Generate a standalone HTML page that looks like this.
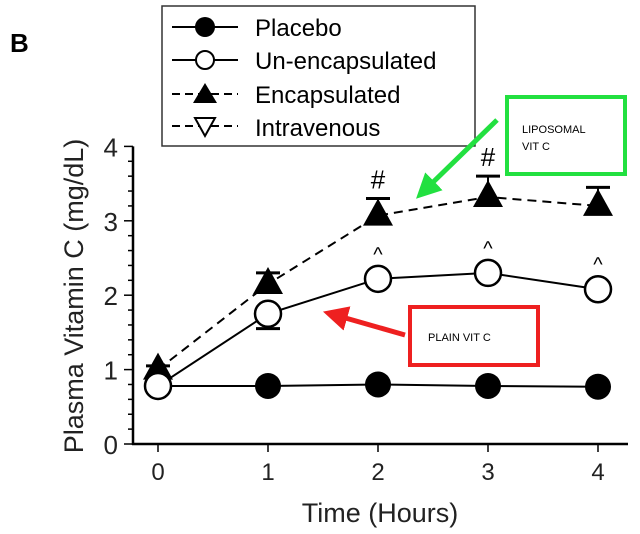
<!DOCTYPE html>
<html><head><meta charset="utf-8"><style>
body{margin:0;background:#fff;}
svg{display:block;font-family:"Liberation Sans",Arial,sans-serif;}
</style></head><body>
<svg width="640" height="534" viewBox="0 0 640 534">
<defs>
<marker id="gh" viewBox="0 0 10 10" refX="5" refY="5" markerWidth="5" markerHeight="5" orient="auto"><path d="M0,0L10,5L0,10z" fill="#22e040"/></marker>
<marker id="rh" viewBox="0 0 10 10" refX="5" refY="5" markerWidth="5" markerHeight="5" orient="auto"><path d="M0,0L10,5L0,10z" fill="#ee2020"/></marker>
</defs>
<text x="10" y="52" font-size="26" font-weight="bold">B</text>
<g id="legend">
<rect x="162" y="6" width="313" height="140" fill="#fff" stroke="#333" stroke-width="1.5"/>
<g><line x1="172" y1="27" x2="238" y2="27" stroke="#000" stroke-width="2"/><circle cx="205" cy="27" r="10" fill="#000"/><text x="255" y="36" font-size="24">Placebo</text></g>
<g><line x1="172" y1="60" x2="238" y2="60" stroke="#000" stroke-width="2"/><circle cx="205" cy="60" r="9" fill="#fff" stroke="#000" stroke-width="2"/><text x="255" y="69" font-size="24">Un-encapsulated</text></g>
<g><line x1="172" y1="94" x2="238" y2="94" stroke="#000" stroke-width="2" stroke-dasharray="8,5"/><path d="M205,83L217,103L193,103z" fill="#000"/><text x="255" y="103" font-size="24">Encapsulated</text></g>
<g><line x1="172" y1="126" x2="238" y2="126" stroke="#000" stroke-width="2" stroke-dasharray="8,5"/><path d="M195,118L215,118L205,136z" fill="#fff" stroke="#000" stroke-width="2"/><text x="255" y="136" font-size="24">Intravenous</text></g>
</g>
<g id="axes"></g>
<g id="series"></g>
<g>
<rect x="507" y="97" width="118" height="77" fill="#fff" stroke="#22e040" stroke-width="4"/>
<text x="522" y="133" font-size="11">LIPOSOMAL</text><text x="522" y="150" font-size="11">VIT C</text>
<line x1="497" y1="120" x2="425" y2="190" stroke="#22e040" stroke-width="5" marker-end="url(#gh)"/>
</g>
<g>
<rect x="410" y="307" width="128" height="58" fill="#fff" stroke="#ee2020" stroke-width="4"/>
<text x="428" y="341" font-size="11">PLAIN VIT C</text>
<line x1="405" y1="335" x2="335" y2="315" stroke="#ee2020" stroke-width="5" marker-end="url(#rh)"/>
</g>
</svg>
<script>
const hours=[0,1,2,3,4];
const yTicks=[0,1,2,3,4];
const placebo=[0.78,0.78,0.80,0.78,0.77];
const unencap=[0.78,1.75,2.22,2.30,2.08];
const unencapErrLow=[0.78,1.55,2.22,2.30,2.08];
const encap=[1.00,2.15,3.07,3.32,3.20];
const encapErrHigh=[1.05,2.30,3.30,3.60,3.45];
const hashAt=[2,3];
const caretAt=[2,3,4];
const NS="http://www.w3.org/2000/svg";
const X=v=>158+v*110, Y=v=>444-v*74.4;
function mk(t,a,p){const e=document.createElementNS(NS,t);for(const k in a)e.setAttribute(k,a[k]);p.appendChild(e);return e;}
const ax=document.getElementById('axes'), se=document.getElementById('series');
let e=mk('line',{x1:133,y1:Y(4),x2:133,y2:445,stroke:'#000','stroke-width':2.5},ax);

e=mk('line',{x1:132,y1:444,x2:628,y2:444,stroke:'#000','stroke-width':2.5},ax);

for(let v=0;v<=4.001;v+=0.2){mk('line',{x1:Math.abs(v-Math.round(v))<0.01?124:128,y1:Y(v),x2:133,y2:Y(v),stroke:'#000','stroke-width':1.5},ax);}
yTicks.forEach(t=>{e=mk('text',{x:118,y:Y(t)+10,'font-size':26,'text-anchor':'end',fill:'#222'},ax);e.textContent=t;
});
hours.forEach(h=>{mk('line',{x1:X(h),y1:444,x2:X(h),y2:452,stroke:'#000','stroke-width':1.5},ax);
e=mk('text',{x:X(h),y:480,'font-size':24,'text-anchor':'middle',fill:'#222'},ax);e.textContent=h;
});
e=mk('text',{x:380,y:522,'font-size':27,'text-anchor':'middle',fill:'#222'},ax);e.textContent='Time (Hours)';

e=mk('text',{x:0,y:0,'font-size':27,'text-anchor':'middle',fill:'#222',transform:'translate(83,296) rotate(-90)'},ax);e.textContent='Plasma Vitamin C (mg/dL)';

function pts(a){return a.map((v,i)=>X(hours[i])+','+Y(v)).join(' ');}
// error bars
hours.forEach((h,i)=>{mk('line',{x1:X(h),y1:Y(encap[i]),x2:X(h),y2:Y(encapErrHigh[i]),stroke:'#000','stroke-width':2},se);
mk('line',{x1:X(h)-12,y1:Y(encapErrHigh[i]),x2:X(h)+12,y2:Y(encapErrHigh[i]),stroke:'#000','stroke-width':3},se);
mk('line',{x1:X(h),y1:Y(unencap[i]),x2:X(h),y2:Y(unencapErrLow[i]),stroke:'#000','stroke-width':2},se);
mk('line',{x1:X(h)-12,y1:Y(unencapErrLow[i]),x2:X(h)+12,y2:Y(unencapErrLow[i]),stroke:'#000','stroke-width':3},se);});
e=mk('polyline',{points:pts(encap),fill:'none',stroke:'#000','stroke-width':2,'stroke-dasharray':'9,6'},se);

e=mk('polyline',{points:pts(unencap),fill:'none',stroke:'#000','stroke-width':2},se);

e=mk('polyline',{points:pts(placebo),fill:'none',stroke:'#000','stroke-width':2},se);

hours.forEach((h,i)=>{
e=mk('circle',{cx:X(h),cy:Y(placebo[i]),r:13,fill:'#000'},se);

const x=X(h),y=Y(encap[i]);
e=mk('path',{d:`M${x},${y-17}L${x+15},${y+10}L${x-15},${y+10}z`,fill:'#000'},se);

e=mk('circle',{cx:X(h),cy:Y(unencap[i]),r:13,fill:'#fff',stroke:'#000','stroke-width':2.5},se);

});
hashAt.forEach(h=>{e=mk('text',{x:X(h),y:Y(encapErrHigh[h])-10,'font-size':26,'text-anchor':'middle'},se);e.textContent='#';
});
caretAt.forEach(h=>{e=mk('text',{x:X(h),y:Y(unencap[h])-18,'font-size':20,'text-anchor':'middle'},se);e.textContent='^';
});
</script>
</body></html>
